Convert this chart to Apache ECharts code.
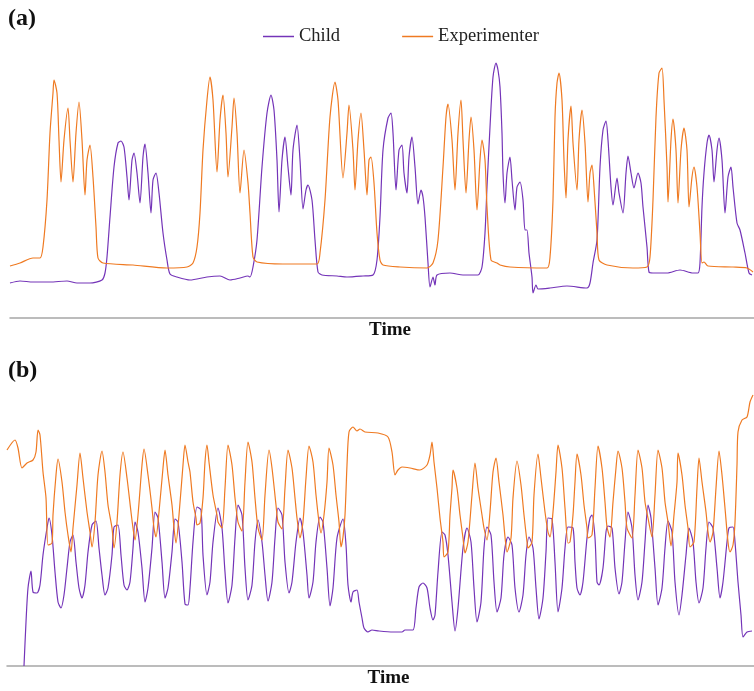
<!DOCTYPE html>
<html><head><meta charset="utf-8">
<script src="https://cdn.jsdelivr.net/npm/echarts@6/dist/echarts.min.js"></script>
<style>html,body{margin:0;padding:0;background:#fff}#c{width:754px;height:691px}</style>
</head><body><div id="c"></div>
<script>
// Panel (a): [time, value]
const childA = [[10,35],[20,37],[33,36],[50,36],[67,37],[77,35],[90,35],[102,38],[105,45],[107,61],[110,101],[114,151],[118,175],[121,177],[124,171],[127,141],[129,118],[132,158],[134,165],[137,145],[140,115],[143,161],[145,174],[148,145],[151,105],[153,138],[156,145],[159,125],[163,85],[167,58],[170,44],[177,41],[190,38],[207,41],[220,42],[230,38],[240,40],[248,42],[250,41],[253,51],[257,78],[262,151],[267,205],[271,223],[274,208],[277,158],[279,106],[282,158],[285,181],[288,151],[291,123],[293,168],[297,193],[300,158],[303,109],[306,128],[308,133],[312,118],[315,78],[318,46],[322,43],[337,42],[347,41],[363,42],[373,43],[377,58],[380,101],[383,168],[388,200],[391,205],[393,185],[396,128],[399,168],[402,173],[404,145],[407,125],[409,161],[412,181],[415,151],[418,114],[421,128],[423,121],[425,101],[428,55],[430,31],[433,41],[435,33],[437,43],[450,45],[463,43],[478,43],[482,51],[485,85],[487,131],[490,191],[493,241],[496,255],[498,248],[500,231],[502,185],[503,145],[505,115],[507,145],[510,161],[512,138],[515,108],[517,131],[520,136],[523,118],[525,88],[527,88],[529,65],[532,41],[533,25],[536,33],[538,29],[550,30],[567,32],[587,30],[590,35],[593,55],[597,78],[600,151],[603,188],[606,197],[608,178],[611,131],[613,113],[617,140],[619,125],[623,105],[626,145],[628,162],[631,145],[634,130],[638,145],[641,135],[643,111],[647,71],[649,46],[653,45],[667,45],[680,48],[693,45],[698,45],[700,55],[702,111],[704,145],[707,175],[709,183],[712,168],[714,136],[717,168],[719,180],[722,158],[725,105],[728,141],[731,151],[733,131],[737,95],[740,88],[745,65],[749,45],[752,43]];
const expA = [[10,52],[20,55],[33,60],[40,60],[43,71],[47,118],[50,185],[53,225],[54,238],[57,225],[59,178],[61,136],[64,178],[68,210],[70,178],[73,136],[76,185],[79,216],[82,178],[85,123],[87,158],[90,173],[93,141],[96,91],[98,60],[103,55],[133,53],[167,50],[187,51],[193,55],[197,71],[200,105],[203,168],[207,218],[210,241],[213,218],[217,146],[220,198],[223,223],[226,185],[228,141],[232,191],[234,220],[237,185],[240,125],[244,168],[248,135],[250,105],[253,61],[257,56],[283,54],[317,54],[320,65],[325,118],[330,201],[335,236],[338,218],[343,140],[347,185],[349,213],[353,168],[355,128],[358,178],[361,205],[364,168],[367,123],[369,158],[371,161],[374,135],[377,85],[380,58],[383,53],[400,51],[427,50],[433,55],[438,78],[443,151],[446,201],[448,214],[452,178],[455,128],[458,185],[461,218],[463,178],[466,125],[469,178],[471,201],[474,168],[477,108],[480,158],[482,178],[485,158],[487,111],[491,58],[497,55],[500,53],[510,51],[547,50],[550,61],[553,118],[555,201],[557,235],[559,245],[562,218],[564,158],[566,120],[568,178],[571,212],[573,175],[577,128],[579,178],[582,208],[585,175],[588,116],[590,145],[592,153],[594,131],[597,85],[599,58],[607,53],[633,50],[647,51],[650,61],[653,118],[656,201],[659,245],[662,250],[664,218],[667,151],[668,116],[671,178],[673,199],[676,168],[678,115],[681,168],[684,190],[687,168],[689,111],[692,141],[694,151],[697,131],[700,85],[702,55],[704,56],[708,52],[733,51],[747,50],[753,46]];
// Panel (b): [time, value]
const childB = [[24,0],[26,44],[28,78],[31,95],[33,74],[37,73],[40,81],[43,111],[47,138],[49,148],[52,131],[55,94],[58,64],[61,58],[64,71],[67,98],[70,124],[73,131],[76,104],[79,78],[82,68],[85,81],[88,114],[92,141],[96,145],[99,118],[102,91],[105,71],[108,78],[112,111],[114,139],[118,141],[121,111],[124,81],[127,76],[130,84],[133,118],[135,144],[138,134],[142,98],[145,64],[148,78],[152,118],[155,154],[158,148],[162,104],[165,68],[168,78],[172,114],[175,147],[178,144],[182,104],[185,62],[188,61],[190,78],[193,124],[197,159],[201,156],[203,111],[207,71],[210,84],[213,124],[218,158],[222,138],[225,94],[228,63],[232,81],[235,128],[238,161],[242,151],[245,98],[248,66],[252,81],[255,124],[258,146],[262,124],[265,91],[268,65],[272,84],[275,128],[278,158],[282,151],[285,104],[289,73],[292,84],[296,124],[300,148],[303,134],[307,91],[309,68],[313,84],[316,124],[320,149],[323,144],[327,98],[330,60],[333,78],[337,128],[343,147],[346,121],[348,81],[351,64],[353,74],[357,76],[359,64],[362,48],[364,38],[368,34],[372,36],[379,35],[393,34],[402,34],[405,36],[413,36],[416,58],[419,79],[423,83],[427,78],[430,58],[433,46],[435,51],[438,94],[442,134],[445,131],[448,111],[452,64],[455,35],[458,58],[463,118],[467,138],[471,124],[474,78],[477,44],[481,64],[484,118],[487,139],[491,131],[494,84],[497,54],[501,68],[504,111],[508,129],[512,121],[515,78],[519,54],[523,71],[526,111],[529,129],[533,118],[536,78],[539,47],[543,68],[546,114],[548,148],[552,147],[555,104],[558,54],[562,78],[565,118],[568,139],[573,138],[575,104],[577,78],[580,71],[583,84],[587,128],[590,148],[592,151],[595,128],[597,84],[599,81],[603,98],[606,134],[608,140],[612,138],[615,98],[619,72],[622,84],[625,124],[628,154],[632,138],[635,91],[638,66],[642,84],[645,124],[648,161],[651,148],[655,98],[658,61],[662,78],[665,118],[668,145],[672,134],[675,84],[679,51],[682,71],[686,111],[689,138],[693,124],[696,84],[699,63],[703,78],[706,118],[709,144],[713,138],[717,98],[720,68],[723,84],[727,124],[729,138],[733,139],[735,124],[738,84],[741,51],[743,29],[747,34],[752,35]];
const expB = [[7,216],[15,226],[18,218],[22,198],[27,203],[33,206],[36,214],[38,236],[40,231],[43,194],[46,168],[48,121],[52,123],[53,151],[56,191],[58,207],[62,184],[65,154],[68,131],[71,114],[73,138],[77,181],[80,213],[83,188],[87,154],[90,134],[92,119],[95,144],[98,191],[102,215],[105,194],[108,161],[112,138],[114,118],[117,144],[120,191],[123,214],[127,188],[131,154],[133,138],[135,126],[138,151],[142,201],[144,217],[148,191],[152,158],[154,138],[156,129],[159,154],[163,198],[165,216],[168,191],[172,161],[174,138],[176,123],[179,151],[183,201],[185,221],[188,204],[190,194],[193,164],[196,148],[197,141],[200,143],[203,168],[205,204],[207,221],[209,204],[213,171],[217,151],[218,144],[222,138],[225,178],[228,221],[232,201],[235,168],[238,144],[242,135],[245,184],[248,224],[252,204],[255,168],[258,138],[262,126],[265,171],[269,216],[272,198],[276,161],[278,144],[282,137],[285,178],[288,216],[292,198],[295,168],[297,148],[300,128],[303,144],[306,188],[309,220],[313,204],[316,171],[319,144],[321,133],[324,151],[327,184],[329,218],[333,201],[336,171],[339,144],[341,119],[343,129],[345,151],[347,201],[349,234],[353,239],[357,235],[360,237],[365,234],[378,233],[388,229],[392,214],[395,191],[398,196],[402,199],[410,198],[420,196],[427,201],[430,211],[432,224],[434,204],[437,178],[440,148],[443,124],[444,109],[448,114],[450,151],[452,178],[453,196],[457,178],[460,151],[463,128],[465,113],[468,124],[472,171],[475,203],[478,178],[482,151],[484,138],[487,126],[490,154],[493,194],[496,208],[499,184],[503,151],[505,129],[507,114],[511,128],[513,168],[517,205],[521,181],[524,151],[527,124],[528,118],[532,124],[534,171],[538,212],[541,188],[545,154],[548,134],[550,129],[553,154],[556,194],[558,221],[562,198],[565,158],[568,123],[570,124],[573,151],[575,184],[577,212],[581,191],[584,161],[587,138],[588,128],[592,131],[595,178],[598,220],[602,198],[605,164],[607,139],[610,129],[613,164],[616,198],[618,215],[622,198],[625,164],[627,138],[632,128],[635,171],[638,216],[642,198],[645,164],[648,148],[652,129],[655,171],[658,216],[662,198],[665,164],[668,144],[671,120],[674,151],[677,184],[678,213],[682,191],[685,161],[688,138],[690,119],[694,124],[697,178],[699,208],[702,184],[706,154],[708,134],[710,124],[713,134],[716,178],[719,215],[722,191],[725,158],[728,124],[730,114],[733,121],[735,144],[737,201],[738,234],[742,246],[747,249],[750,264],[753,271]];
const seriesNames = ['Child', 'Experimenter'];
const panelLabels = ['(a)', '(b)'];
const axisTitle = 'Time';

const PURPLE = '#7434b8', ORANGE = '#ef7a22';
const serif = '"Liberation Serif", "DejaVu Serif", serif';
const chart = echarts.init(document.getElementById('c'), null, {renderer: 'canvas'});
const axisLine = {show: true, lineStyle: {color: '#a6a6a6', width: 1.5}};
function xAx(idx, min) {
  return {type: 'value', gridIndex: idx, min: min, max: 754, axisLine: axisLine,
    axisTick: {show: false}, axisLabel: {show: false}, splitLine: {show: false},
    name: axisTitle, nameLocation: 'middle', nameGap: 3,
    nameTextStyle: {fontFamily: serif, fontWeight: 'bold', fontSize: 19, color: '#111', padding: [0, 0, 0, 16]}};
}
function yAx(idx, max) {
  return {type: 'value', gridIndex: idx, min: 0, max: max, show: false};
}
function line(name, data, color, idx) {
  return {name: name, type: 'line', xAxisIndex: idx, yAxisIndex: idx, data: data,
    symbol: 'none', showSymbol: false, smooth: 0.25,
    lineStyle: {color: color, width: 1.2}, itemStyle: {color: color}, animation: false};
}
chart.setOption({
  animation: false,
  title: [
    {text: panelLabels[0], left: 3, top: 2, textStyle: {fontFamily: serif, fontWeight: 'bold', fontSize: 24, color: '#111'}},
    {text: panelLabels[1], left: 3, top: 354, textStyle: {fontFamily: serif, fontWeight: 'bold', fontSize: 24, color: '#111'}}
  ],
  legend: {data: seriesNames, top: 22, left: 258, icon: 'rect', itemWidth: 31, itemHeight: 1.5, itemGap: 62,
    textStyle: {fontFamily: serif, fontSize: 18.5, color: '#222'}},
  grid: [
    {left: 10, right: 0, top: 58, height: 260, containLabel: false, outerBoundsMode: 'none'},
    {left: 7, right: 0, top: 386, height: 280, containLabel: false, outerBoundsMode: 'none'}
  ],
  xAxis: [xAx(0, 10), xAx(1, 7)],
  yAxis: [yAx(0, 260), yAx(1, 280)],
  series: [
    line(seriesNames[0], childA, PURPLE, 0),
    line(seriesNames[1], expA, ORANGE, 0),
    line(seriesNames[0], childB, PURPLE, 1),
    line(seriesNames[1], expB, ORANGE, 1)
  ]
});
</script></body></html>
